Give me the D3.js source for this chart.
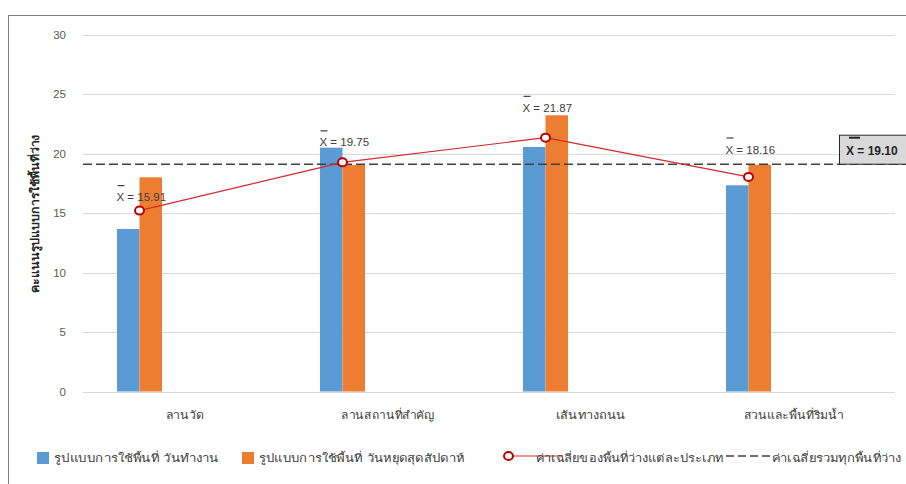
<!DOCTYPE html>
<html>
<head>
<meta charset="utf-8">
<script src="https://cdn.jsdelivr.net/npm/d3@7"></script>
<style>
  html, body { margin: 0; padding: 0; background: #fff; }
  svg { display: block; font-family: Tahoma, "DejaVu Sans", "Noto Sans", sans-serif; }
  .num { font-family: "Liberation Sans", Arial, sans-serif; }
</style>
</head>
<body>
<svg id="chart" width="906" height="484"></svg>
<script>
// ---- data ----
const categories = ["ลานวัด", "ลานสถานที่สำคัญ", "เส้นทางถนน", "สวนและพื้นที่ริมน้ำ"];
const weekdayValues = [13.66, 20.49, 20.55, 17.33];
const weekendValues = [18.0, 19.03, 23.21, 19.06];
const categoryMeans = [15.2, 19.26, 21.33, 18.03];
const meanLabels = ["15.91", "19.75", "21.87", "18.16"];
const meanLabelAnchor = [16.0, 20.6, 23.5, 20.0];
const overallMean = 19.10;
const overallLabel = "19.10";
const yTicks = [0, 5, 10, 15, 20, 25, 30];
const seriesNames = [
  "รูปแบบการใช้พื้นที่  วันทำงาน",
  "รูปแบบการใช้พื้นที่  วันหยุดสุดสัปดาห์",
  "ค่าเฉลี่ยของพื้นที่ว่างแต่ละประเภท",
  "ค่าเฉลี่ยรวมทุกพื้นที่ว่าง"
];
const yTitle = "คะแนนรูปแบบการใช้พื้นที่ว่าง";

// ---- layout ----
const svg = d3.select("#chart");
const plot = { left: 83, right: 895, top: 34.5, bottom: 391.5 };
const colors = { blue: "#5b9bd5", orange: "#ed7d31", red: "#d42a2a", redMarker: "#c00000", dash: "#404040", grid: "#d9d9d9", text: "#404040" };
const catLabelWidths = [38, 93, 70, 100];
const legendTextWidths = [165, 205, 187, 129];

const y = d3.scaleLinear().domain([0, 30]).range([plot.bottom, plot.top]);
const x0 = d3.scaleBand().domain(categories).range([plot.left, plot.right]).padding(0);
const bw = x0.bandwidth();
const slots = ["weekday", "weekend", "s3", "s4", "s5", "s6"];
const x1 = d3.scaleBand().domain(slots).range([bw * 0.1675, bw * 0.8325]).padding(0);
const markerX = c => x0(c) + x1("weekend");

// frame
svg.append("rect").attr("x", 8.5).attr("y", 15.5).attr("width", 1000).attr("height", 1000)
  .attr("fill", "none").attr("stroke", "#7f7f7f").attr("stroke-width", 1);

// gridlines
svg.append("g").selectAll("line").data(yTicks).join("line")
  .attr("x1", plot.left).attr("x2", plot.right)
  .attr("y1", d => Math.round(y(d)) + 0.5).attr("y2", d => Math.round(y(d)) + 0.5)
  .attr("stroke", colors.grid).attr("stroke-width", 1);

// y axis tick labels via d3 axis
const yAxis = svg.append("g").attr("transform", `translate(${plot.left - 10},0)`)
  .call(d3.axisLeft(y).tickValues(yTicks).tickSize(0).tickPadding(7));
yAxis.select(".domain").remove();
yAxis.selectAll("text").attr("fill", "#595959").style("font-size", "11.5px")
  .style("font-family", "'Liberation Sans', Arial, sans-serif");

// y title
svg.append("text").attr("transform", `translate(39,214) rotate(-90)`)
  .attr("text-anchor", "middle").attr("fill", "#262626")
  .attr("textLength", 158).attr("lengthAdjust", "spacingAndGlyphs")
  .style("font-size", "11px").style("font-weight", "bold").text(yTitle);

// bars
const barData = categories.map((c, i) => ({ c, weekday: weekdayValues[i], weekend: weekendValues[i] }));
const gBars = svg.append("g");
gBars.selectAll("rect.wd").data(barData).join("rect").attr("class", "wd")
  .attr("x", d => x0(d.c) + x1("weekday")).attr("width", x1.bandwidth())
  .attr("y", d => y(d.weekday)).attr("height", d => y(0) - y(d.weekday))
  .attr("fill", colors.blue);
gBars.selectAll("rect.we").data(barData).join("rect").attr("class", "we")
  .attr("x", d => x0(d.c) + x1("weekend")).attr("width", x1.bandwidth())
  .attr("y", d => y(d.weekend)).attr("height", d => y(0) - y(d.weekend))
  .attr("fill", colors.orange);

// overall mean dashed line
svg.append("line").attr("x1", plot.left).attr("x2", 910)
  .attr("y1", y(overallMean)).attr("y2", y(overallMean))
  .attr("stroke", colors.dash).attr("stroke-width", 1.5).attr("stroke-dasharray", "9,4");

// category mean line
const lineData = categories.map((c, i) => ({ c, v: categoryMeans[i] }));
svg.append("path").datum(lineData)
  .attr("d", d3.line().x(d => markerX(d.c)).y(d => y(d.v)))
  .attr("fill", "none").attr("stroke", colors.red).attr("stroke-width", 1.2);
svg.append("g").selectAll("ellipse").data(lineData).join("ellipse")
  .attr("cx", d => markerX(d.c)).attr("cy", d => y(d.v)).attr("rx", 4.5).attr("ry", 4)
  .attr("fill", "#fff").attr("stroke", colors.redMarker).attr("stroke-width", 2);

// mean labels
const labelData = categories.map((c, i) => ({ c, t: meanLabels[i], a: meanLabelAnchor[i] }));
const gLab = svg.append("g");
labelData.forEach(d => {
  const xs = markerX(d.c) - 23;
  const yb = y(d.a);
  gLab.append("text").attr("class", "num").attr("x", xs).attr("y", yb).attr("fill", colors.text)
    .style("font-size", "11.5px").text("X = " + d.t);
  gLab.append("line").attr("x1", xs + 1).attr("x2", xs + 8).attr("y1", yb - 15.5).attr("y2", yb - 15.5)
    .attr("stroke", colors.text).attr("stroke-width", 1.2);
});

// overall box
const boxBottom = y(overallMean);
svg.append("rect").attr("x", 839.5).attr("y", boxBottom - 29).attr("width", 80).attr("height", 29)
  .attr("fill", "#d9d9d9").attr("stroke", "#262626").attr("stroke-width", 1);
svg.append("text").attr("class", "num").attr("x", 846).attr("y", boxBottom - 9).attr("fill", "#262626")
  .style("font-size", "12px").style("font-weight", "bold").text("X = " + overallLabel);
svg.append("line").attr("x1", 849).attr("x2", 860).attr("y1", boxBottom - 26.5).attr("y2", boxBottom - 26.5)
  .attr("stroke", "#262626").attr("stroke-width", 2);

// x category labels
svg.append("g").selectAll("text").data(categories).join("text")
  .attr("x", d => x0(d) + bw / 2).attr("y", 419).attr("text-anchor", "middle")
  .attr("textLength", (d, i) => catLabelWidths[i]).attr("lengthAdjust", "spacingAndGlyphs")
  .attr("fill", colors.text).style("font-size", "11px").text(d => d);

// legend
const lg = svg.append("g").style("font-size", "11px");
const ly = 462;
const legText = (x, i) => lg.append("text").attr("x", x).attr("y", ly).attr("fill", colors.text)
  .attr("textLength", legendTextWidths[i]).attr("lengthAdjust", "spacingAndGlyphs").text(seriesNames[i]);
lg.append("rect").attr("x", 37).attr("y", 452).attr("width", 12).attr("height", 12).attr("fill", colors.blue);
legText(54, 0);
lg.append("rect").attr("x", 242).attr("y", 452).attr("width", 12).attr("height", 12).attr("fill", colors.orange);
legText(259, 1);
lg.append("line").attr("x1", 508).attr("x2", 563).attr("y1", 456).attr("y2", 456)
  .attr("stroke", colors.red).attr("stroke-width", 1.2);
lg.append("ellipse").attr("cx", 508.5).attr("cy", 456).attr("rx", 4.5).attr("ry", 4)
  .attr("fill", "#fff").attr("stroke", colors.redMarker).attr("stroke-width", 2);
legText(536, 2);
lg.append("line").attr("x1", 726).attr("x2", 770).attr("y1", 456).attr("y2", 456)
  .attr("stroke", colors.dash).attr("stroke-width", 1.5).attr("stroke-dasharray", "8,4");
legText(772, 3);
</script>
</body>
</html>
